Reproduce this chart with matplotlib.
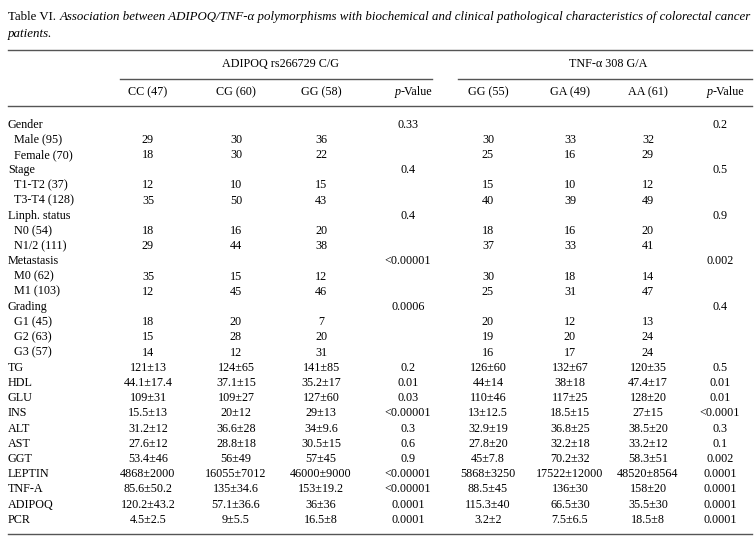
import matplotlib
matplotlib.use('Agg')
import matplotlib.pyplot as plt

plt.rcParams['font.family'] = ['Liberation Serif', 'DejaVu Serif']

# table content
row_labels = ['Gender', 'Male (95)', 'Female (70)', 'Stage', 'T1-T2 (37)', 'T3-T4 (128)',
              'Linph. status', 'N0 (54)', 'N1/2 (111)', 'Metastasis', 'M0 (62)', 'M1 (103)',
              'Grading', 'G1 (45)', 'G2 (63)', 'G3 (57)',
              'TG', 'HDL', 'GLU', 'INS', 'ALT', 'AST', 'GGT', 'LEPTIN', 'TNF-A', 'ADIPOQ', 'PCR']
indented = [False, True, True, False, True, True, False, True, True, False, True, True,
            False, True, True, True] + [False] * 11

adipoq_cols = ['CC (47)', 'CG (60)', 'GG (58)']
tnf_cols = ['GG (55)', 'GA (49)', 'AA (61)']

cc = ['', '29', '18', '', '12', '35', '', '18', '29', '', '35', '12', '', '18', '15', '14',
      '121±13', '44.1±17.4', '109±31', '15.5±13', '31.2±12', '27.6±12', '53.4±46',
      '4868±2000', '85.6±50.2', '120.2±43.2', '4.5±2.5']
cg = ['', '30', '30', '', '10', '50', '', '16', '44', '', '15', '45', '', '20', '28', '12',
      '124±65', '37.1±15', '109±27', '20±12', '36.6±28', '28.8±18', '56±49',
      '16055±7012', '135±34.6', '57.1±36.6', '9±5.5']
gg1 = ['', '36', '22', '', '15', '43', '', '20', '38', '', '12', '46', '', '7', '20', '31',
       '141±85', '35.2±17', '127±60', '29±13', '34±9.6', '30.5±15', '57±45',
       '46000±9000', '153±19.2', '36±36', '16.5±8']
p_adipoq = ['0.33', '', '', '0.4', '', '', '0.4', '', '', '<0.00001', '', '', '0.0006', '', '', '',
            '0.2', '0.01', '0.03', '<0.00001', '0.3', '0.6', '0.9',
            '<0.00001', '<0.00001', '0.0001', '0.0001']
gg2 = ['', '30', '25', '', '15', '40', '', '18', '37', '', '30', '25', '', '20', '19', '16',
       '126±60', '44±14', '110±46', '13±12.5', '32.9±19', '27.8±20', '45±7.8',
       '5868±3250', '88.5±45', '115.3±40', '3.2±2']
ga = ['', '33', '16', '', '10', '39', '', '16', '33', '', '18', '31', '', '12', '20', '17',
      '132±67', '38±18', '117±25', '18.5±15', '36.8±25', '32.2±18', '70.2±32',
      '17522±12000', '136±30', '66.5±30', '7.5±6.5']
aa = ['', '32', '29', '', '12', '49', '', '20', '41', '', '14', '47', '', '13', '24', '24',
      '120±35', '47.4±17', '128±20', '27±15', '38.5±20', '33.2±12', '58.3±51',
      '48520±8564', '158±20', '35.5±30', '18.5±8']
p_tnf = ['0.2', '', '', '0.5', '', '', '0.9', '', '', '0.002', '', '', '0.4', '', '', '',
         '0.5', '0.01', '0.01', '<0.0001', '0.3', '0.1', '0.002',
         '0.0001', '0.0001', '0.0001', '0.0001']

W, H = 754, 548
fig = plt.figure(figsize=(W / 100, H / 100), dpi=100)
ax = fig.add_axes([0, 0, 1, 1])
ax.set_xlim(0, W)
ax.set_ylim(H, 0)
ax.axis('off')

fs = 8.7
tfs = 9.3
line_col = '#555555'

# title: upright "Table VI." followed by italic caption
t1 = ax.text(8, 17, 'Table VI. ', fontsize=tfs, va='center', ha='left')
fig.canvas.draw()
bb = t1.get_window_extent(renderer=fig.canvas.get_renderer())
x_after = bb.x1  # axes span the whole figure, so data x == pixel x
ax.text(x_after, 17, 'Association between ADIPOQ/TNF-α polymorphisms with biochemical and '
        'clinical pathological characteristics of colorectal cancer',
        fontsize=tfs, va='center', ha='left', style='italic')
ax.text(8, 34, 'patients.', fontsize=tfs, va='center', ha='left', style='italic')

# rules
ax.plot([8, 752], [50, 50], color=line_col, lw=1.0)
ax.plot([120, 432], [79, 79], color=line_col, lw=1.0)
ax.plot([458, 752], [79, 79], color=line_col, lw=1.0)
ax.plot([8, 752], [106, 106], color=line_col, lw=1.0)
ax.plot([8, 752], [534, 534], color=line_col, lw=1.0)

# headers
ax.text(280, 64, 'ADIPOQ rs266729 C/G', fontsize=fs, ha='center', va='center')
ax.text(608, 64, 'TNF-α 308 G/A', fontsize=fs, ha='center', va='center')

col_x = [148, 236, 321, 408, 488, 570, 648, 720]
headers = adipoq_cols + ['p-Value'] + tnf_cols + ['p-Value']
for x, h in zip(col_x, headers):
    if h == 'p-Value':
        ax.text(x - 7, 92, 'p', fontsize=fs, ha='right', va='center', style='italic')
        ax.text(x - 7, 92, '-Value', fontsize=fs, ha='left', va='center')
    else:
        ax.text(x, 92, h, fontsize=fs, ha='center', va='center')

# body
y0, dy = 124.5, 15.2
columns = [cc, cg, gg1, p_adipoq, gg2, ga, aa, p_tnf]
for i, lab in enumerate(row_labels):
    y = y0 + i * dy
    ax.text(14 if indented[i] else 8, y, lab, fontsize=fs, ha='left', va='center')
    for x, col in zip(col_x, columns):
        if col[i]:
            ax.text(x, y, col[i], fontsize=fs, ha='center', va='center')

fig.savefig('out.png', dpi=100, facecolor='white')
